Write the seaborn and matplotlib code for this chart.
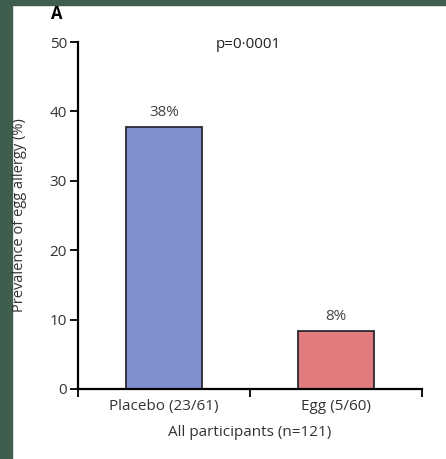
import matplotlib
matplotlib.use("Agg")
import matplotlib.pyplot as plt
import seaborn as sns
import pandas as pd
from matplotlib.patches import Rectangle

categories = ["Placebo (23/61)", "Egg (5/60)"]
values = [37.7, 8.3]
labels = ["38%", "8%"]
colors = ["#7f8fcf", "#e27b7e"]

sns.set_style("white")
plt.rcParams['font.family'] = ['Open Sans', 'DejaVu Sans']

fig = plt.figure(figsize=(4.46, 4.59), dpi=100)
ax = fig.add_axes([78/446, 1-389/459, (422-78)/446, (389-42)/459])

df = pd.DataFrame({"cat": categories, "val": values})
sns.barplot(data=df, x="cat", y="val", hue="cat", palette=colors, width=0.44,
            edgecolor="#2a2a35", linewidth=1.3, ax=ax, legend=False, saturation=1)

ax.set_xlim(-0.5, 1.5)
ax.set_ylim(0, 50)
ax.set_yticks([0, 10, 20, 30, 40, 50])
ax.tick_params(axis='y', direction='out', length=6, width=1.3, color='black',
               labelsize=11, pad=2, left=True, labelcolor='#333333')
ax.set_xticks([0, 1])
ax.set_xticklabels(categories)
ax.tick_params(axis='x', which='major', length=0, labelsize=11, pad=7, labelcolor='#333333')
ax.set_xticks([-0.5, 0.5, 1.5], minor=True)
ax.tick_params(axis='x', which='minor', direction='out', length=6, width=1.3, color='black', bottom=True)

for s in ['top', 'right']:
    ax.spines[s].set_visible(False)
for s in ['left', 'bottom']:
    ax.spines[s].set_color('black')
    ax.spines[s].set_linewidth(1.6)

ax.set_xlabel("All participants (n=121)", fontsize=11, color='#333333', labelpad=8)
ax.set_ylabel("Prevalence of egg allergy (%)", fontsize=10.5, color='#333333', labelpad=16)

for i, (v, t) in enumerate(zip(values, labels)):
    ax.text(i, v + 1.0, t, ha='center', va='bottom', fontsize=11, color='#444444')

ax.text(0.49, 49.6, "p=0·0001", ha='center', va='center', fontsize=11, color='#222222')
fig.text(57/446, 1-14/459, "A", ha='center', va='center', fontsize=12, fontweight='bold', color='black')

border = "#3f5e4e"
fig.patches.append(Rectangle((0, 0), 12/446, 1, transform=fig.transFigure, color=border, zorder=-1))
fig.patches.append(Rectangle((0, 1-5/459), 1, 5/459, transform=fig.transFigure, color=border, zorder=-1))

fig.savefig("out.png", dpi=100)
